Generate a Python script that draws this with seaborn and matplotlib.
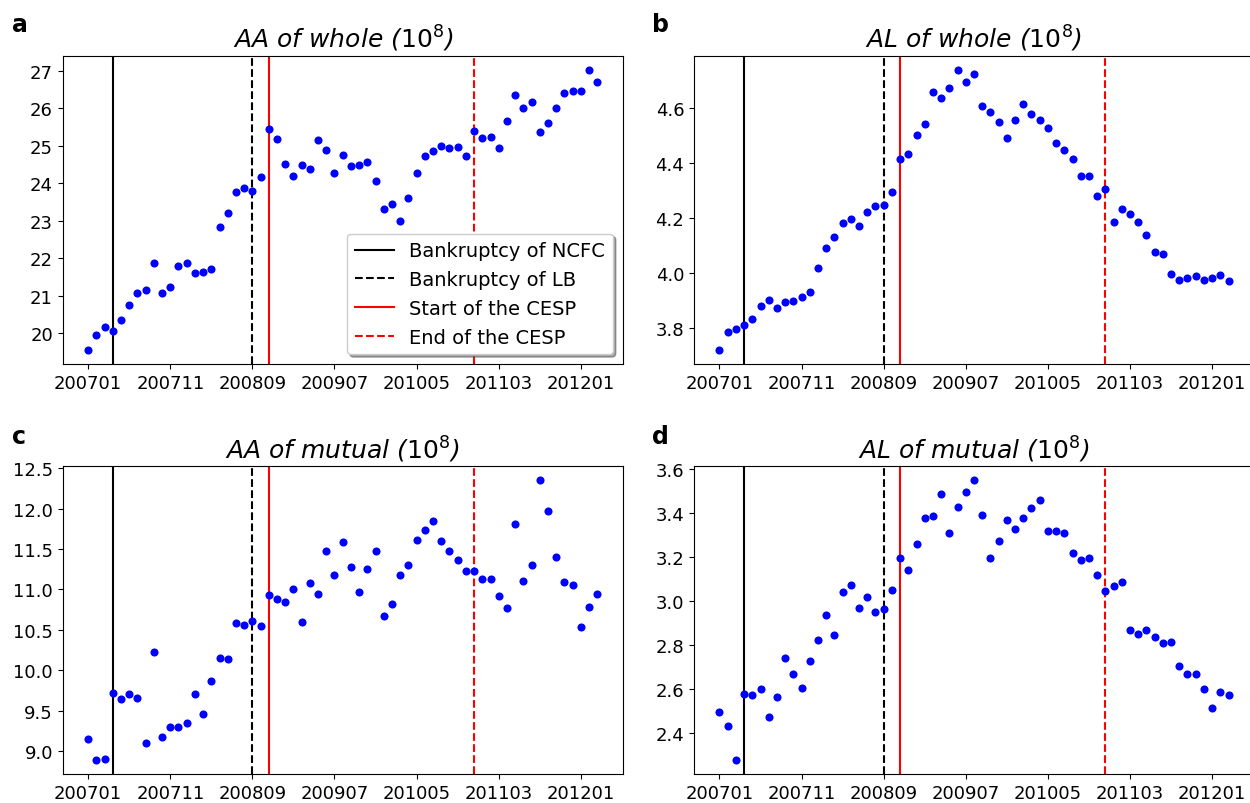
import numpy as np
import pandas as pd
import matplotlib
matplotlib.use("Agg")
import matplotlib.pyplot as plt
import matplotlib.ticker as mticker
import seaborn as sns

# ---- data ----
months = [str(p).replace("-", "") for p in pd.period_range("2007-01", "2012-03", freq="M")]

aa_whole = [19.55, 19.95, 20.17, 20.06, 20.35, 20.76, 21.08, 21.15, 21.88, 21.06,
            21.24, 21.79, 21.88, 21.60, 21.64, 21.71, 22.82, 23.21, 23.76, 23.88,
            23.80, 24.16, 25.44, 25.17, 24.51, 24.19, 24.48, 24.39, 25.15, 24.90,
            24.27, 24.75, 24.45, 24.49, 24.57, 24.06, 23.31, 23.44, 22.99, 23.61,
            24.28, 24.72, 24.86, 25.00, 24.93, 24.97, 24.73, 25.39, 25.20, 25.24,
            24.94, 25.65, 26.36, 26.00, 26.17, 25.36, 25.60, 26.00, 26.42, 26.47,
            26.47, 27.03, 26.71]

al_whole = [3.722, 3.787, 3.799, 3.813, 3.836, 3.881, 3.904, 3.874, 3.897, 3.900,
            3.913, 3.933, 4.021, 4.092, 4.132, 4.184, 4.196, 4.172, 4.222, 4.245,
            4.247, 4.296, 4.413, 4.431, 4.501, 4.541, 4.657, 4.637, 4.672, 4.738,
            4.695, 4.722, 4.606, 4.584, 4.549, 4.489, 4.554, 4.612, 4.577, 4.554,
            4.526, 4.472, 4.446, 4.415, 4.353, 4.353, 4.282, 4.307, 4.187, 4.234,
            4.216, 4.187, 4.138, 4.076, 4.069, 3.999, 3.974, 3.982, 3.991, 3.977,
            3.983, 3.993, 3.973]

aa_mutual = [9.148, 8.889, 8.905, 9.723, 9.641, 9.711, 9.654, 9.095, 10.221, 9.173,
             9.300, 9.300, 9.349, 9.711, 9.456, 9.867, 10.147, 10.143, 10.587, 10.558,
             10.615, 10.550, 10.932, 10.882, 10.850, 11.006, 10.599, 11.076, 10.944, 11.478,
             11.183, 11.589, 11.281, 10.965, 11.248, 11.478, 10.665, 10.817, 11.183, 11.306,
             11.606, 11.741, 11.844, 11.594, 11.470, 11.359, 11.224, 11.224, 11.129, 11.129,
             10.915, 10.776, 11.811, 11.100, 11.298, 12.350, 11.968, 11.400, 11.096, 11.051,
             10.533, 10.788, 10.940]

al_mutual = [2.494, 2.433, 2.276, 2.576, 2.571, 2.598, 2.470, 2.561, 2.739, 2.667,
             2.603, 2.729, 2.821, 2.936, 2.847, 3.041, 3.073, 2.968, 3.017, 2.948,
             2.964, 3.050, 3.194, 3.141, 3.262, 3.380, 3.388, 3.486, 3.308, 3.430,
             3.495, 3.550, 3.392, 3.198, 3.274, 3.367, 3.326, 3.377, 3.423, 3.462,
             3.318, 3.321, 3.308, 3.217, 3.185, 3.195, 3.118, 3.044, 3.070, 3.086,
             2.868, 2.850, 2.870, 2.836, 2.809, 2.815, 2.705, 2.670, 2.670, 2.598,
             2.511, 2.588, 2.573]

events = ["Bankruptcy of NCFC", "Bankruptcy of LB", "Start of the CESP", "End of the CESP"]
event_months = ["200704", "200809", "200811", "201012"]

titles = ["AA of whole", "AL of whole", "AA of mutual", "AL of mutual"]
panel_letters = ["a", "b", "c", "d"]
series = [aa_whole, al_whole, aa_mutual, al_mutual]

# ---- plotting ----
plt.rcParams["font.family"] = ["DejaVu Sans"]
W, H = 1250, 804
fig = plt.figure(figsize=(W / 100, H / 100), dpi=100)

def px_axes(left, top, right, bottom):
    return fig.add_axes([left / W, 1 - bottom / H, (right - left) / W, (bottom - top) / H])

boxes = [(62.7, 56.7, 622.7, 365), (694, 56.7, 1254, 365),
         (62.7, 467.3, 622.7, 775), (694, 467.3, 1254, 775)]
label_pos = [(12, 13), (652, 13), (12, 425), (652, 425)]

x = np.arange(len(months))
ev_x = [months.index(m) for m in event_months]
ev_styles = [("black", "-"), ("black", "--"), ("red", "-"), ("red", "--")]
tick_idx = list(range(0, len(months), 10))

for i, (vals, title) in enumerate(zip(series, titles)):
    ax = px_axes(*boxes[i])
    df = pd.DataFrame({"x": x, "y": vals})
    sns.scatterplot(data=df, x="x", y="y", ax=ax, color="blue", s=34, linewidth=0, zorder=3)
    for (c, ls), ex, lab in zip(ev_styles, ev_x, events):
        ax.axvline(ex, color=c, linestyle=ls, linewidth=1.5, label=lab, zorder=2)
    ax.set_xticks(tick_idx)
    ax.set_xticklabels([months[t] for t in tick_idx])
    ax.tick_params(labelsize=13)
    ax.set_xlabel("")
    ax.set_ylabel("")
    ax.set_title(title + r" ($10^8$)", style="italic", fontsize=18)
    if i == 0:
        ax.yaxis.set_major_locator(mticker.MultipleLocator(1))
        ax.legend(loc="lower right", shadow=True, fontsize=14, framealpha=1)
    if i == 1:
        ax.yaxis.set_major_formatter(mticker.FormatStrFormatter("%.1f"))
    fig.text(label_pos[i][0] / W, 1 - label_pos[i][1] / H, panel_letters[i],
             fontsize=17, fontweight="bold", va="top", ha="left")

fig.savefig("out.png", dpi=100)
